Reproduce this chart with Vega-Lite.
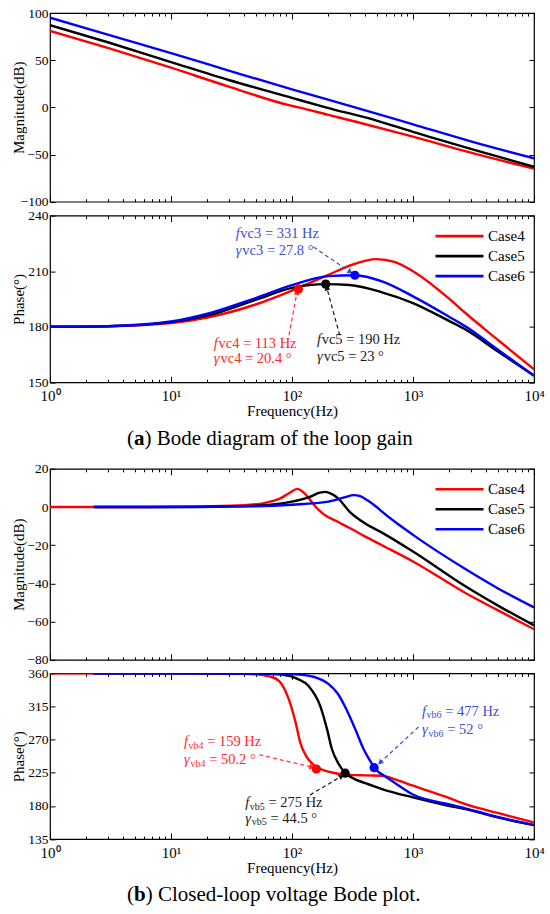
{
  "$schema": "https://vega.github.io/schema/vega-lite/v6.json",
  "padding": {"left": 10, "top": 5, "right": 4, "bottom": 0},
  "background": "white",
  "bounds": "flush",
  "spacing": 13.6,
  "config": {
    "font": "Liberation Serif",
    "view": {"stroke": "#000000", "strokeWidth": 1.2},
    "axis": {
      "domain": false, "grid": false,
      "labelFont": "Liberation Serif", "labelFontSize": 15, "labelColor": "#000000",
      "titleFont": "Liberation Serif", "titleFontWeight": "normal", "titleColor": "#000000",
      "tickColor": "#000000", "tickWidth": 1,
      "labelFlush": false, "labelOverlap": false, "labelBound": false
    },
    "axisLeft": {"labelFontSize": 13.5, "labelPadding": 2, "titlePadding": 1, "minExtent": 23, "maxExtent": 23, "titleFontSize": 15},
    "axisBottom": {"labelPadding": 6, "titlePadding": 0, "titleFontSize": 15},
    "legend": {
      "orient": "top-right", "offset": 9, "padding": 0, "rowPadding": 0,
      "symbolType": "M-2.4,0H2.4", "symbolSize": 400, "symbolStrokeWidth": 2.6,
      "labelOffset": 17, "labelFont": "Liberation Serif", "labelFontSize": 15, "labelColor": "#000000"
    }
  },
  "datasets": {
    "amag": [
      {"case": "Case4", "f": 1, "v": 81}, {"case": "Case4", "f": 3, "v": 63}, {"case": "Case4", "f": 10, "v": 42},
      {"case": "Case4", "f": 30, "v": 22}, {"case": "Case4", "f": 100, "v": 1.5}, {"case": "Case4", "f": 113, "v": 0},
      {"case": "Case4", "f": 200, "v": -8}, {"case": "Case4", "f": 331, "v": -15}, {"case": "Case4", "f": 1000, "v": -31},
      {"case": "Case4", "f": 3000, "v": -48}, {"case": "Case4", "f": 10000, "v": -65},
      {"case": "Case5", "f": 1, "v": 87}, {"case": "Case5", "f": 3, "v": 69}, {"case": "Case5", "f": 10, "v": 48},
      {"case": "Case5", "f": 30, "v": 29}, {"case": "Case5", "f": 100, "v": 10}, {"case": "Case5", "f": 190, "v": 0},
      {"case": "Case5", "f": 500, "v": -14}, {"case": "Case5", "f": 1000, "v": -26}, {"case": "Case5", "f": 3000, "v": -44},
      {"case": "Case5", "f": 10000, "v": -63},
      {"case": "Case6", "f": 1, "v": 95}, {"case": "Case6", "f": 3, "v": 77}, {"case": "Case6", "f": 10, "v": 57.5},
      {"case": "Case6", "f": 30, "v": 39}, {"case": "Case6", "f": 100, "v": 19}, {"case": "Case6", "f": 331, "v": 0},
      {"case": "Case6", "f": 1000, "v": -18}, {"case": "Case6", "f": 3000, "v": -36}, {"case": "Case6", "f": 10000, "v": -54}
    ],
    "aphase": [
      {"case": "Case4", "f": 1, "v": 180}, {"case": "Case4", "f": 3, "v": 180.3}, {"case": "Case4", "f": 10, "v": 182},
      {"case": "Case4", "f": 20, "v": 185}, {"case": "Case4", "f": 50, "v": 192}, {"case": "Case4", "f": 100, "v": 199.5},
      {"case": "Case4", "f": 150, "v": 204.5}, {"case": "Case4", "f": 200, "v": 208}, {"case": "Case4", "f": 300, "v": 213},
      {"case": "Case4", "f": 500, "v": 216.5}, {"case": "Case4", "f": 700, "v": 215}, {"case": "Case4", "f": 1000, "v": 210},
      {"case": "Case4", "f": 2000, "v": 195}, {"case": "Case4", "f": 2710, "v": 187.4}, {"case": "Case4", "f": 5000, "v": 173},
      {"case": "Case4", "f": 10000, "v": 157},
      {"case": "Case5", "f": 1, "v": 180}, {"case": "Case5", "f": 3, "v": 180.3}, {"case": "Case5", "f": 10, "v": 182.5},
      {"case": "Case5", "f": 20, "v": 186}, {"case": "Case5", "f": 50, "v": 194.5}, {"case": "Case5", "f": 100, "v": 201},
      {"case": "Case5", "f": 190, "v": 203}, {"case": "Case5", "f": 300, "v": 202.5}, {"case": "Case5", "f": 554, "v": 198.6},
      {"case": "Case5", "f": 1000, "v": 192.8}, {"case": "Case5", "f": 2000, "v": 183}, {"case": "Case5", "f": 2710, "v": 178.5},
      {"case": "Case5", "f": 5000, "v": 166.8}, {"case": "Case5", "f": 10000, "v": 153.6},
      {"case": "Case6", "f": 1, "v": 180}, {"case": "Case6", "f": 3, "v": 180.3}, {"case": "Case6", "f": 10, "v": 182.8},
      {"case": "Case6", "f": 20, "v": 187}, {"case": "Case6", "f": 50, "v": 195.5}, {"case": "Case6", "f": 100, "v": 202.5},
      {"case": "Case6", "f": 200, "v": 207.3}, {"case": "Case6", "f": 331, "v": 207.8}, {"case": "Case6", "f": 554, "v": 204.5},
      {"case": "Case6", "f": 1000, "v": 196.4}, {"case": "Case6", "f": 2000, "v": 185.3}, {"case": "Case6", "f": 2710, "v": 180.2},
      {"case": "Case6", "f": 5000, "v": 167.7}, {"case": "Case6", "f": 10000, "v": 153.6}
    ],
    "bmag": [
      {"case": "Case4", "f": 1, "v": 0}, {"case": "Case4", "f": 3, "v": 0}, {"case": "Case4", "f": 10, "v": 0.1},
      {"case": "Case4", "f": 20, "v": 0.3}, {"case": "Case4", "f": 40, "v": 0.9}, {"case": "Case4", "f": 60, "v": 2.2},
      {"case": "Case4", "f": 80, "v": 4.5}, {"case": "Case4", "f": 95, "v": 7.3}, {"case": "Case4", "f": 111, "v": 9.5},
      {"case": "Case4", "f": 125, "v": 7.5}, {"case": "Case4", "f": 140, "v": 4}, {"case": "Case4", "f": 156, "v": 0.3},
      {"case": "Case4", "f": 180, "v": -3.5}, {"case": "Case4", "f": 243, "v": -8}, {"case": "Case4", "f": 300, "v": -11},
      {"case": "Case4", "f": 404, "v": -15.5}, {"case": "Case4", "f": 554, "v": -20}, {"case": "Case4", "f": 1000, "v": -28.5},
      {"case": "Case4", "f": 2710, "v": -45}, {"case": "Case4", "f": 5000, "v": -54}, {"case": "Case4", "f": 10000, "v": -64},
      {"case": "Case5", "f": 2.3, "v": 0}, {"case": "Case5", "f": 10, "v": 0}, {"case": "Case5", "f": 30, "v": 0.3},
      {"case": "Case5", "f": 60, "v": 1}, {"case": "Case5", "f": 100, "v": 2.8}, {"case": "Case5", "f": 140, "v": 5.3},
      {"case": "Case5", "f": 170, "v": 7.5}, {"case": "Case5", "f": 189, "v": 7.9}, {"case": "Case5", "f": 210, "v": 7},
      {"case": "Case5", "f": 240, "v": 4.5}, {"case": "Case5", "f": 300, "v": -2.5}, {"case": "Case5", "f": 400, "v": -8.5},
      {"case": "Case5", "f": 554, "v": -13.4}, {"case": "Case5", "f": 1000, "v": -23.3}, {"case": "Case5", "f": 2710, "v": -41.5},
      {"case": "Case5", "f": 5000, "v": -51.5}, {"case": "Case5", "f": 10000, "v": -62},
      {"case": "Case6", "f": 2.3, "v": 0}, {"case": "Case6", "f": 10, "v": 0}, {"case": "Case6", "f": 50, "v": 0.4},
      {"case": "Case6", "f": 100, "v": 1.2}, {"case": "Case6", "f": 200, "v": 2.8}, {"case": "Case6", "f": 270, "v": 5},
      {"case": "Case6", "f": 324, "v": 6.2}, {"case": "Case6", "f": 370, "v": 5.5}, {"case": "Case6", "f": 420, "v": 3.5},
      {"case": "Case6", "f": 500, "v": 0}, {"case": "Case6", "f": 554, "v": -2.4}, {"case": "Case6", "f": 700, "v": -7.5},
      {"case": "Case6", "f": 1000, "v": -14.6}, {"case": "Case6", "f": 2710, "v": -32.5}, {"case": "Case6", "f": 5000, "v": -42.5},
      {"case": "Case6", "f": 10000, "v": -52.6}
    ],
    "bphase": [
      {"case": "Case4", "f": 1, "v": 360}, {"case": "Case4", "f": 10, "v": 360}, {"case": "Case4", "f": 30, "v": 359.7},
      {"case": "Case4", "f": 50, "v": 358.8}, {"case": "Case4", "f": 65, "v": 356}, {"case": "Case4", "f": 78, "v": 350},
      {"case": "Case4", "f": 94, "v": 325}, {"case": "Case4", "f": 107, "v": 293.5}, {"case": "Case4", "f": 117, "v": 266},
      {"case": "Case4", "f": 133, "v": 246}, {"case": "Case4", "f": 150, "v": 236}, {"case": "Case4", "f": 166, "v": 231.5},
      {"case": "Case4", "f": 200, "v": 226.5}, {"case": "Case4", "f": 276, "v": 222.5}, {"case": "Case4", "f": 400, "v": 221.5},
      {"case": "Case4", "f": 554, "v": 221}, {"case": "Case4", "f": 700, "v": 216.5}, {"case": "Case4", "f": 1000, "v": 207.5},
      {"case": "Case4", "f": 2000, "v": 190.5}, {"case": "Case4", "f": 2710, "v": 182.5}, {"case": "Case4", "f": 5000, "v": 170.5},
      {"case": "Case4", "f": 10000, "v": 157.7},
      {"case": "Case5", "f": 2.3, "v": 360}, {"case": "Case5", "f": 10, "v": 360}, {"case": "Case5", "f": 50, "v": 359.7},
      {"case": "Case5", "f": 83, "v": 358.5}, {"case": "Case5", "f": 110, "v": 353}, {"case": "Case5", "f": 137, "v": 343},
      {"case": "Case5", "f": 171, "v": 316}, {"case": "Case5", "f": 195, "v": 284}, {"case": "Case5", "f": 214, "v": 257},
      {"case": "Case5", "f": 243, "v": 237}, {"case": "Case5", "f": 275, "v": 225}, {"case": "Case5", "f": 330, "v": 216.5},
      {"case": "Case5", "f": 404, "v": 211}, {"case": "Case5", "f": 554, "v": 203}, {"case": "Case5", "f": 1000, "v": 191.6},
      {"case": "Case5", "f": 2000, "v": 180}, {"case": "Case5", "f": 2710, "v": 175.7}, {"case": "Case5", "f": 5000, "v": 164.5},
      {"case": "Case5", "f": 10000, "v": 154},
      {"case": "Case6", "f": 2.3, "v": 360}, {"case": "Case6", "f": 10, "v": 360}, {"case": "Case6", "f": 80, "v": 359.7},
      {"case": "Case6", "f": 114, "v": 358.5}, {"case": "Case6", "f": 160, "v": 354}, {"case": "Case6", "f": 201, "v": 345.5},
      {"case": "Case6", "f": 240, "v": 332}, {"case": "Case6", "f": 276, "v": 314}, {"case": "Case6", "f": 334, "v": 284},
      {"case": "Case6", "f": 391, "v": 257}, {"case": "Case6", "f": 440, "v": 242}, {"case": "Case6", "f": 477, "v": 232.5},
      {"case": "Case6", "f": 520, "v": 226}, {"case": "Case6", "f": 554, "v": 223}, {"case": "Case6", "f": 700, "v": 212},
      {"case": "Case6", "f": 1000, "v": 195.5}, {"case": "Case6", "f": 2000, "v": 182}, {"case": "Case6", "f": 2710, "v": 176.8},
      {"case": "Case6", "f": 5000, "v": 165}, {"case": "Case6", "f": 10000, "v": 154.3}
    ],
    "notesA": [
      {"case": "Case6", "f": 34.3, "v": 230.3, "head": "f", "rest": "vc3 = 331 Hz"},
      {"case": "Case6", "f": 34.3, "v": 221.1, "head": "γ", "rest": "vc3 = 27.8 °"},
      {"case": "Case4", "f": 22.6, "v": 170.8, "head": "f", "rest": "vc4 = 113 Hz"},
      {"case": "Case4", "f": 22.6, "v": 162.6, "head": "γ", "rest": "vc4 = 20.4 °"},
      {"case": "Case5", "f": 161, "v": 172.7, "head": "f", "rest": "vc5 = 190 Hz"},
      {"case": "Case5", "f": 161, "v": 163.5, "head": "γ", "rest": "vc5 = 23 °"}
    ],
    "arrowsA": [
      {"case": "Case6", "f": 150.6, "v": 223, "f2": 303, "v2": 209.6},
      {"case": "Case4", "f": 94.5, "v": 175.4, "f2": 110, "v2": 198.6},
      {"case": "Case5", "f": 248, "v": 175.4, "f2": 194, "v2": 201}
    ],
    "dotsA": [
      {"case": "Case4", "f": 113, "v": 200.4},
      {"case": "Case5", "f": 190, "v": 203},
      {"case": "Case6", "f": 331, "v": 207.8}
    ],
    "notesB": [
      {"case": "Case4", "f": 12.8, "v": 266.5, "head": "f", "sub": "vb4", "rest": "= 159 Hz"},
      {"case": "Case4", "f": 12.8, "v": 242, "head": "γ", "sub": "vb4", "rest": "= 50.2 °"},
      {"case": "Case5", "f": 41.1, "v": 183.5, "head": "f", "sub": "vb5", "rest": "= 275 Hz"},
      {"case": "Case5", "f": 41.1, "v": 162.7, "head": "γ", "sub": "vb5", "rest": "= 44.5 °"},
      {"case": "Case6", "f": 1187, "v": 308, "head": "f", "sub": "vb6", "rest": "= 477 Hz"},
      {"case": "Case6", "f": 1187, "v": 282.7, "head": "γ", "sub": "vb6", "rest": "= 52 °"}
    ],
    "arrowsB": [
      {"case": "Case4", "f": 53.7, "v": 249.5, "f2": 146, "v2": 232.8},
      {"case": "Case5", "f": 141, "v": 195, "f2": 257, "v2": 220.4},
      {"case": "Case6", "f": 1111, "v": 287.3, "f2": 534, "v2": 238.8}
    ],
    "dotsB": [
      {"case": "Case4", "f": 159, "v": 230.2},
      {"case": "Case5", "f": 275, "v": 224.5},
      {"case": "Case6", "f": 477, "v": 232}
    ]
  },
  "vconcat": [
    {
      "width": 484, "height": 188.7,
      "data": {"name": "amag"},
      "layer": [
        {"mark": {"type": "point", "opacity": 0},
         "encoding": {
           "x": {"field": "f", "type": "quantitative", "scale": {"type": "log", "domain": [1, 10000], "nice": false}, "axis": {"orient": "bottom", "values": [1, 10, 100, 1000, 10000], "labels": false, "title": null, "tickSize": -6}},
           "y": {"field": "v", "type": "quantitative", "scale": {"domain": [-100, 100], "nice": false, "zero": false}, "axis": {"orient": "left", "values": [-100, -50, 0, 50, 100], "labels": false, "title": null, "tickSize": -5}}}},
        {"mark": {"type": "point", "opacity": 0},
         "encoding": {
           "x": {"field": "f", "type": "quantitative", "scale": {"type": "log", "domain": [1, 10000], "nice": false}, "axis": {"orient": "bottom", "values": [2, 3, 4, 5, 6, 7, 8, 9, 20, 30, 40, 50, 60, 70, 80, 90, 200, 300, 400, 500, 600, 700, 800, 900, 2000, 3000, 4000, 5000, 6000, 7000, 8000, 9000], "labels": false, "title": null, "tickSize": -3}},
           "y": {"field": "v", "type": "quantitative", "scale": {"domain": [-100, 100], "nice": false, "zero": false}, "axis": {"orient": "right", "values": [-100, -50, 0, 50, 100], "labels": false, "title": null, "tickSize": -5}}}},
        {"mark": {"type": "point", "opacity": 0},
         "encoding": {
           "x": {"field": "f", "type": "quantitative", "scale": {"type": "log", "domain": [1, 10000], "nice": false}, "axis": {"orient": "top", "values": [1, 10, 100, 1000, 10000], "labels": false, "title": null, "tickSize": -6}},
           "y": {"field": "v", "type": "quantitative", "scale": {"domain": [-100, 100], "nice": false, "zero": false}, "axis": null}}},
        {"mark": {"type": "point", "opacity": 0},
         "encoding": {
           "x": {"field": "f", "type": "quantitative", "scale": {"type": "log", "domain": [1, 10000], "nice": false}, "axis": {"orient": "top", "values": [2, 3, 4, 5, 6, 7, 8, 9, 20, 30, 40, 50, 60, 70, 80, 90, 200, 300, 400, 500, 600, 700, 800, 900, 2000, 3000, 4000, 5000, 6000, 7000, 8000, 9000], "labels": false, "title": null, "tickSize": -3}},
           "y": {"field": "v", "type": "quantitative", "scale": {"domain": [-100, 100], "nice": false, "zero": false}, "axis": null}}},
        {"mark": {"type": "line", "strokeWidth": 2.4, "interpolate": "monotone", "clip": true},
         "encoding": {
           "x": {"field": "f", "type": "quantitative", "scale": {"type": "log", "domain": [1, 10000], "nice": false}, "axis": null},
           "y": {"field": "v", "type": "quantitative", "scale": {"domain": [-100, 100], "nice": false, "zero": false}, "axis": {"orient": "left", "values": [-100, -50, 0, 50, 100], "ticks": false, "title": "Magnitude(dB)"}},
           "color": {"field": "case", "type": "nominal", "scale": {"domain": ["Case4", "Case5", "Case6"], "range": ["#ff0000", "#000000", "#0000ff"]}, "legend": null}}}
      ],
      "resolve": {"axis": {"x": "independent", "y": "independent"}}
    },
    {
      "width": 484, "height": 166.7,
      "data": {"name": "aphase"},
      "layer": [
        {"mark": {"type": "point", "opacity": 0},
         "encoding": {
           "x": {"field": "f", "type": "quantitative", "scale": {"type": "log", "domain": [1, 10000], "nice": false}, "axis": {"orient": "bottom", "values": [1, 10, 100, 1000, 10000], "labels": false, "title": null, "tickSize": -6}},
           "y": {"field": "v", "type": "quantitative", "scale": {"domain": [150, 240], "nice": false, "zero": false}, "axis": {"orient": "left", "values": [150, 180, 210, 240], "labels": false, "title": null, "tickSize": -5}}}},
        {"mark": {"type": "point", "opacity": 0},
         "encoding": {
           "x": {"field": "f", "type": "quantitative", "scale": {"type": "log", "domain": [1, 10000], "nice": false}, "axis": {"orient": "bottom", "values": [2, 3, 4, 5, 6, 7, 8, 9, 20, 30, 40, 50, 60, 70, 80, 90, 200, 300, 400, 500, 600, 700, 800, 900, 2000, 3000, 4000, 5000, 6000, 7000, 8000, 9000], "labels": false, "title": null, "tickSize": -3}},
           "y": {"field": "v", "type": "quantitative", "scale": {"domain": [150, 240], "nice": false, "zero": false}, "axis": {"orient": "right", "values": [150, 180, 210, 240], "labels": false, "title": null, "tickSize": -5}}}},
        {"mark": {"type": "point", "opacity": 0},
         "encoding": {
           "x": {"field": "f", "type": "quantitative", "scale": {"type": "log", "domain": [1, 10000], "nice": false}, "axis": {"orient": "top", "values": [1, 10, 100, 1000, 10000], "labels": false, "title": null, "tickSize": -6}},
           "y": {"field": "v", "type": "quantitative", "scale": {"domain": [150, 240], "nice": false, "zero": false}, "axis": null}}},
        {"mark": {"type": "point", "opacity": 0},
         "encoding": {
           "x": {"field": "f", "type": "quantitative", "scale": {"type": "log", "domain": [1, 10000], "nice": false}, "axis": {"orient": "top", "values": [2, 3, 4, 5, 6, 7, 8, 9, 20, 30, 40, 50, 60, 70, 80, 90, 200, 300, 400, 500, 600, 700, 800, 900, 2000, 3000, 4000, 5000, 6000, 7000, 8000, 9000], "labels": false, "title": null, "tickSize": -3}},
           "y": {"field": "v", "type": "quantitative", "scale": {"domain": [150, 240], "nice": false, "zero": false}, "axis": null}}},
        {"mark": {"type": "line", "strokeWidth": 2.4, "interpolate": "monotone", "clip": true},
         "encoding": {
           "x": {"field": "f", "type": "quantitative", "scale": {"type": "log", "domain": [1, 10000], "nice": false}, "axis": {"orient": "bottom", "values": [1, 10, 100, 1000, 10000], "ticks": false, "title": "Frequency(Hz)", "labelExpr": "datum.value == 1 ? '10⁰' : datum.value == 10 ? '10¹' : datum.value == 100 ? '10²' : datum.value == 1000 ? '10³' : '10⁴'"}},
           "y": {"field": "v", "type": "quantitative", "scale": {"domain": [150, 240], "nice": false, "zero": false}, "axis": {"orient": "left", "values": [150, 180, 210, 240], "ticks": false, "title": "Phase(°)"}},
           "color": {"field": "case", "type": "nominal", "scale": {"domain": ["Case4", "Case5", "Case6"], "range": ["#ff0000", "#000000", "#0000ff"]}, "legend": {"title": null}}}},
        {"data": {"name": "arrowsA"},
         "mark": {"type": "rule", "strokeDash": [4, 3], "strokeWidth": 1.2},
         "encoding": {
           "x": {"field": "f", "type": "quantitative", "scale": {"type": "log", "domain": [1, 10000], "nice": false}, "axis": null},
           "x2": {"field": "f2"},
           "y": {"field": "v", "type": "quantitative", "scale": {"domain": [150, 240], "nice": false, "zero": false}, "axis": null},
           "y2": {"field": "v2"},
           "color": {"condition": [{"test": "datum.case === 'Case4'", "value": "#ff2a2a"}, {"test": "datum.case === 'Case6'", "value": "#3a4fd4"}], "value": "#1a1a1a"}}},
        {"data": {"name": "arrowsA"},
         "mark": {"type": "point", "shape": "triangle-right", "filled": true, "size": 36, "opacity": 1},
         "encoding": {
           "x": {"field": "f2", "type": "quantitative", "scale": {"type": "log", "domain": [1, 10000], "nice": false}, "axis": null},
           "y": {"field": "v2", "type": "quantitative", "scale": {"domain": [150, 240], "nice": false, "zero": false}, "axis": null},
           "angle": {"condition": [{"test": "datum.case === 'Case4'", "value": 280.5}, {"test": "datum.case === 'Case5'", "value": 254.8}], "value": 34},
           "color": {"condition": [{"test": "datum.case === 'Case4'", "value": "#ff2a2a"}, {"test": "datum.case === 'Case6'", "value": "#3a4fd4"}], "value": "#1a1a1a"}}},
        {"data": {"name": "dotsA"},
         "mark": {"type": "circle", "size": 85, "opacity": 1},
         "encoding": {
           "x": {"field": "f", "type": "quantitative", "scale": {"type": "log", "domain": [1, 10000], "nice": false}, "axis": null},
           "y": {"field": "v", "type": "quantitative", "scale": {"domain": [150, 240], "nice": false, "zero": false}, "axis": null},
           "color": {"condition": [{"test": "datum.case === 'Case4'", "value": "#ff0000"}, {"test": "datum.case === 'Case6'", "value": "#0000ff"}], "value": "#000000"}}},
        {"data": {"name": "notesA"},
         "mark": {"type": "text", "align": "left", "baseline": "middle", "fontSize": 14.5, "fontStyle": "italic"},
         "encoding": {
           "x": {"field": "f", "type": "quantitative", "scale": {"type": "log", "domain": [1, 10000], "nice": false}, "axis": null},
           "y": {"field": "v", "type": "quantitative", "scale": {"domain": [150, 240], "nice": false, "zero": false}, "axis": null},
           "text": {"field": "head"},
           "color": {"condition": [{"test": "datum.case === 'Case4'", "value": "#ff2a2a"}, {"test": "datum.case === 'Case6'", "value": "#3a4fd4"}], "value": "#1a1a1a"}}},
        {"data": {"name": "notesA"},
         "transform": [{"filter": "datum.head === 'f'"}],
         "mark": {"type": "text", "align": "left", "baseline": "middle", "fontSize": 14.5, "dx": 4.6},
         "encoding": {
           "x": {"field": "f", "type": "quantitative", "scale": {"type": "log", "domain": [1, 10000], "nice": false}, "axis": null},
           "y": {"field": "v", "type": "quantitative", "scale": {"domain": [150, 240], "nice": false, "zero": false}, "axis": null},
           "text": {"field": "rest"},
           "color": {"condition": [{"test": "datum.case === 'Case4'", "value": "#ff2a2a"}, {"test": "datum.case === 'Case6'", "value": "#3a4fd4"}], "value": "#1a1a1a"}}},
        {"data": {"name": "notesA"},
         "transform": [{"filter": "datum.head !== 'f'"}],
         "mark": {"type": "text", "align": "left", "baseline": "middle", "fontSize": 14.5, "dx": 6.6},
         "encoding": {
           "x": {"field": "f", "type": "quantitative", "scale": {"type": "log", "domain": [1, 10000], "nice": false}, "axis": null},
           "y": {"field": "v", "type": "quantitative", "scale": {"domain": [150, 240], "nice": false, "zero": false}, "axis": null},
           "text": {"field": "rest"},
           "color": {"condition": [{"test": "datum.case === 'Case4'", "value": "#ff2a2a"}, {"test": "datum.case === 'Case6'", "value": "#3a4fd4"}], "value": "#1a1a1a"}}}
      ],
      "resolve": {"axis": {"x": "independent", "y": "independent"}}
    },
    {
      "width": 484, "height": 58.8,
      "view": {"stroke": null},
      "data": {"values": [{"open": "(", "tag": "a", "rest": ") Bode diagram of the loop gain"}]},
      "layer": [
        {"mark": {"type": "text", "align": "left", "fontSize": 21, "dy": 13, "dx": -165, "color": "#000000"}, "encoding": {"text": {"field": "open"}}},
        {"mark": {"type": "text", "align": "left", "fontSize": 21, "fontWeight": "bold", "dy": 13, "dx": -158, "color": "#000000"}, "encoding": {"text": {"field": "tag"}}},
        {"mark": {"type": "text", "align": "left", "fontSize": 21, "dy": 13, "dx": -147.5, "color": "#000000"}, "encoding": {"text": {"field": "rest"}}}
      ]
    },
    {
      "width": 484, "height": 191,
      "data": {"name": "bmag"},
      "layer": [
        {"mark": {"type": "point", "opacity": 0},
         "encoding": {
           "x": {"field": "f", "type": "quantitative", "scale": {"type": "log", "domain": [1, 10000], "nice": false}, "axis": {"orient": "bottom", "values": [1, 10, 100, 1000, 10000], "labels": false, "title": null, "tickSize": -6}},
           "y": {"field": "v", "type": "quantitative", "scale": {"domain": [-80, 20], "nice": false, "zero": false}, "axis": {"orient": "left", "values": [-80, -60, -40, -20, 0, 20], "labels": false, "title": null, "tickSize": -5}}}},
        {"mark": {"type": "point", "opacity": 0},
         "encoding": {
           "x": {"field": "f", "type": "quantitative", "scale": {"type": "log", "domain": [1, 10000], "nice": false}, "axis": {"orient": "bottom", "values": [2, 3, 4, 5, 6, 7, 8, 9, 20, 30, 40, 50, 60, 70, 80, 90, 200, 300, 400, 500, 600, 700, 800, 900, 2000, 3000, 4000, 5000, 6000, 7000, 8000, 9000], "labels": false, "title": null, "tickSize": -3}},
           "y": {"field": "v", "type": "quantitative", "scale": {"domain": [-80, 20], "nice": false, "zero": false}, "axis": {"orient": "right", "values": [-80, -60, -40, -20, 0, 20], "labels": false, "title": null, "tickSize": -5}}}},
        {"mark": {"type": "point", "opacity": 0},
         "encoding": {
           "x": {"field": "f", "type": "quantitative", "scale": {"type": "log", "domain": [1, 10000], "nice": false}, "axis": {"orient": "top", "values": [1, 10, 100, 1000, 10000], "labels": false, "title": null, "tickSize": -6}},
           "y": {"field": "v", "type": "quantitative", "scale": {"domain": [-80, 20], "nice": false, "zero": false}, "axis": null}}},
        {"mark": {"type": "point", "opacity": 0},
         "encoding": {
           "x": {"field": "f", "type": "quantitative", "scale": {"type": "log", "domain": [1, 10000], "nice": false}, "axis": {"orient": "top", "values": [2, 3, 4, 5, 6, 7, 8, 9, 20, 30, 40, 50, 60, 70, 80, 90, 200, 300, 400, 500, 600, 700, 800, 900, 2000, 3000, 4000, 5000, 6000, 7000, 8000, 9000], "labels": false, "title": null, "tickSize": -3}},
           "y": {"field": "v", "type": "quantitative", "scale": {"domain": [-80, 20], "nice": false, "zero": false}, "axis": null}}},
        {"mark": {"type": "line", "strokeWidth": 2.4, "interpolate": "monotone", "clip": true},
         "encoding": {
           "x": {"field": "f", "type": "quantitative", "scale": {"type": "log", "domain": [1, 10000], "nice": false}, "axis": null},
           "y": {"field": "v", "type": "quantitative", "scale": {"domain": [-80, 20], "nice": false, "zero": false}, "axis": {"orient": "left", "values": [-80, -60, -40, -20, 0, 20], "ticks": false, "title": "Magnitude(dB)"}},
           "color": {"field": "case", "type": "nominal", "scale": {"domain": ["Case4", "Case5", "Case6"], "range": ["#ff0000", "#000000", "#0000ff"]}, "legend": {"title": null}}}}
      ],
      "resolve": {"axis": {"x": "independent", "y": "independent"}}
    },
    {
      "width": 484, "height": 165.7,
      "data": {"name": "bphase"},
      "layer": [
        {"mark": {"type": "point", "opacity": 0},
         "encoding": {
           "x": {"field": "f", "type": "quantitative", "scale": {"type": "log", "domain": [1, 10000], "nice": false}, "axis": {"orient": "bottom", "values": [1, 10, 100, 1000, 10000], "labels": false, "title": null, "tickSize": -6}},
           "y": {"field": "v", "type": "quantitative", "scale": {"domain": [135, 360], "nice": false, "zero": false}, "axis": {"orient": "left", "values": [135, 180, 225, 270, 315, 360], "labels": false, "title": null, "tickSize": -5}}}},
        {"mark": {"type": "point", "opacity": 0},
         "encoding": {
           "x": {"field": "f", "type": "quantitative", "scale": {"type": "log", "domain": [1, 10000], "nice": false}, "axis": {"orient": "bottom", "values": [2, 3, 4, 5, 6, 7, 8, 9, 20, 30, 40, 50, 60, 70, 80, 90, 200, 300, 400, 500, 600, 700, 800, 900, 2000, 3000, 4000, 5000, 6000, 7000, 8000, 9000], "labels": false, "title": null, "tickSize": -3}},
           "y": {"field": "v", "type": "quantitative", "scale": {"domain": [135, 360], "nice": false, "zero": false}, "axis": {"orient": "right", "values": [135, 180, 225, 270, 315, 360], "labels": false, "title": null, "tickSize": -5}}}},
        {"mark": {"type": "point", "opacity": 0},
         "encoding": {
           "x": {"field": "f", "type": "quantitative", "scale": {"type": "log", "domain": [1, 10000], "nice": false}, "axis": {"orient": "top", "values": [1, 10, 100, 1000, 10000], "labels": false, "title": null, "tickSize": -6}},
           "y": {"field": "v", "type": "quantitative", "scale": {"domain": [135, 360], "nice": false, "zero": false}, "axis": null}}},
        {"mark": {"type": "point", "opacity": 0},
         "encoding": {
           "x": {"field": "f", "type": "quantitative", "scale": {"type": "log", "domain": [1, 10000], "nice": false}, "axis": {"orient": "top", "values": [2, 3, 4, 5, 6, 7, 8, 9, 20, 30, 40, 50, 60, 70, 80, 90, 200, 300, 400, 500, 600, 700, 800, 900, 2000, 3000, 4000, 5000, 6000, 7000, 8000, 9000], "labels": false, "title": null, "tickSize": -3}},
           "y": {"field": "v", "type": "quantitative", "scale": {"domain": [135, 360], "nice": false, "zero": false}, "axis": null}}},
        {"mark": {"type": "line", "strokeWidth": 2.4, "interpolate": "monotone", "clip": true},
         "encoding": {
           "x": {"field": "f", "type": "quantitative", "scale": {"type": "log", "domain": [1, 10000], "nice": false}, "axis": {"orient": "bottom", "values": [1, 10, 100, 1000, 10000], "ticks": false, "title": "Frequency(Hz)", "labelExpr": "datum.value == 1 ? '10⁰' : datum.value == 10 ? '10¹' : datum.value == 100 ? '10²' : datum.value == 1000 ? '10³' : '10⁴'"}},
           "y": {"field": "v", "type": "quantitative", "scale": {"domain": [135, 360], "nice": false, "zero": false}, "axis": {"orient": "left", "values": [135, 180, 225, 270, 315, 360], "ticks": false, "title": "Phase(°)"}},
           "color": {"field": "case", "type": "nominal", "scale": {"domain": ["Case4", "Case5", "Case6"], "range": ["#ff0000", "#000000", "#0000ff"]}, "legend": null}}},
        {"data": {"name": "arrowsB"},
         "mark": {"type": "rule", "strokeDash": [4, 3], "strokeWidth": 1.2},
         "encoding": {
           "x": {"field": "f", "type": "quantitative", "scale": {"type": "log", "domain": [1, 10000], "nice": false}, "axis": null},
           "x2": {"field": "f2"},
           "y": {"field": "v", "type": "quantitative", "scale": {"domain": [135, 360], "nice": false, "zero": false}, "axis": null},
           "y2": {"field": "v2"},
           "color": {"condition": [{"test": "datum.case === 'Case4'", "value": "#ff2a2a"}, {"test": "datum.case === 'Case6'", "value": "#3a4fd4"}], "value": "#1a1a1a"}}},
        {"data": {"name": "arrowsB"},
         "mark": {"type": "point", "shape": "triangle-right", "filled": true, "size": 36, "opacity": 1},
         "encoding": {
           "x": {"field": "f2", "type": "quantitative", "scale": {"type": "log", "domain": [1, 10000], "nice": false}, "axis": null},
           "y": {"field": "v2", "type": "quantitative", "scale": {"domain": [135, 360], "nice": false, "zero": false}, "axis": null},
           "angle": {"condition": [{"test": "datum.case === 'Case4'", "value": 13.2}, {"test": "datum.case === 'Case5'", "value": 329.3}], "value": 137.2},
           "color": {"condition": [{"test": "datum.case === 'Case4'", "value": "#ff2a2a"}, {"test": "datum.case === 'Case6'", "value": "#3a4fd4"}], "value": "#1a1a1a"}}},
        {"data": {"name": "dotsB"},
         "mark": {"type": "circle", "size": 85, "opacity": 1},
         "encoding": {
           "x": {"field": "f", "type": "quantitative", "scale": {"type": "log", "domain": [1, 10000], "nice": false}, "axis": null},
           "y": {"field": "v", "type": "quantitative", "scale": {"domain": [135, 360], "nice": false, "zero": false}, "axis": null},
           "color": {"condition": [{"test": "datum.case === 'Case4'", "value": "#ff0000"}, {"test": "datum.case === 'Case6'", "value": "#0000ff"}], "value": "#000000"}}},
        {"data": {"name": "notesB"},
         "mark": {"type": "text", "align": "left", "baseline": "middle", "fontSize": 14.5, "fontStyle": "italic"},
         "encoding": {
           "x": {"field": "f", "type": "quantitative", "scale": {"type": "log", "domain": [1, 10000], "nice": false}, "axis": null},
           "y": {"field": "v", "type": "quantitative", "scale": {"domain": [135, 360], "nice": false, "zero": false}, "axis": null},
           "text": {"field": "head"},
           "color": {"condition": [{"test": "datum.case === 'Case4'", "value": "#ff2a2a"}, {"test": "datum.case === 'Case6'", "value": "#3a4fd4"}], "value": "#1a1a1a"}}},
        {"data": {"name": "notesB"},
         "transform": [{"filter": "datum.head === 'f'"}],
         "mark": {"type": "text", "align": "left", "baseline": "middle", "fontSize": 10, "dx": 4.6, "dy": 3.5},
         "encoding": {
           "x": {"field": "f", "type": "quantitative", "scale": {"type": "log", "domain": [1, 10000], "nice": false}, "axis": null},
           "y": {"field": "v", "type": "quantitative", "scale": {"domain": [135, 360], "nice": false, "zero": false}, "axis": null},
           "text": {"field": "sub"},
           "color": {"condition": [{"test": "datum.case === 'Case4'", "value": "#ff2a2a"}, {"test": "datum.case === 'Case6'", "value": "#3a4fd4"}], "value": "#1a1a1a"}}},
        {"data": {"name": "notesB"},
         "transform": [{"filter": "datum.head !== 'f'"}],
         "mark": {"type": "text", "align": "left", "baseline": "middle", "fontSize": 10, "dx": 6.6, "dy": 3.5},
         "encoding": {
           "x": {"field": "f", "type": "quantitative", "scale": {"type": "log", "domain": [1, 10000], "nice": false}, "axis": null},
           "y": {"field": "v", "type": "quantitative", "scale": {"domain": [135, 360], "nice": false, "zero": false}, "axis": null},
           "text": {"field": "sub"},
           "color": {"condition": [{"test": "datum.case === 'Case4'", "value": "#ff2a2a"}, {"test": "datum.case === 'Case6'", "value": "#3a4fd4"}], "value": "#1a1a1a"}}},
        {"data": {"name": "notesB"},
         "transform": [{"filter": "datum.head === 'f'"}],
         "mark": {"type": "text", "align": "left", "baseline": "middle", "fontSize": 14.5, "dx": 23.2},
         "encoding": {
           "x": {"field": "f", "type": "quantitative", "scale": {"type": "log", "domain": [1, 10000], "nice": false}, "axis": null},
           "y": {"field": "v", "type": "quantitative", "scale": {"domain": [135, 360], "nice": false, "zero": false}, "axis": null},
           "text": {"field": "rest"},
           "color": {"condition": [{"test": "datum.case === 'Case4'", "value": "#ff2a2a"}, {"test": "datum.case === 'Case6'", "value": "#3a4fd4"}], "value": "#1a1a1a"}}},
        {"data": {"name": "notesB"},
         "transform": [{"filter": "datum.head !== 'f'"}],
         "mark": {"type": "text", "align": "left", "baseline": "middle", "fontSize": 14.5, "dx": 25.2},
         "encoding": {
           "x": {"field": "f", "type": "quantitative", "scale": {"type": "log", "domain": [1, 10000], "nice": false}, "axis": null},
           "y": {"field": "v", "type": "quantitative", "scale": {"domain": [135, 360], "nice": false, "zero": false}, "axis": null},
           "text": {"field": "rest"},
           "color": {"condition": [{"test": "datum.case === 'Case4'", "value": "#ff2a2a"}, {"test": "datum.case === 'Case6'", "value": "#3a4fd4"}], "value": "#1a1a1a"}}}
      ],
      "resolve": {"axis": {"x": "independent", "y": "independent"}}
    },
    {
      "width": 484, "height": 58.8,
      "view": {"stroke": null},
      "data": {"values": [{"open": "(", "tag": "b", "rest": ") Closed-loop voltage Bode plot."}]},
      "layer": [
        {"mark": {"type": "text", "align": "left", "fontSize": 21, "dy": 13, "dx": -165, "color": "#000000"}, "encoding": {"text": {"field": "open"}}},
        {"mark": {"type": "text", "align": "left", "fontSize": 21, "fontWeight": "bold", "dy": 13, "dx": -158, "color": "#000000"}, "encoding": {"text": {"field": "tag"}}},
        {"mark": {"type": "text", "align": "left", "fontSize": 21, "dy": 13, "dx": -146.3, "color": "#000000"}, "encoding": {"text": {"field": "rest"}}}
      ]
    }
  ],
  "resolve": {"scale": {"color": "independent"}, "legend": {"color": "independent"}}
}
